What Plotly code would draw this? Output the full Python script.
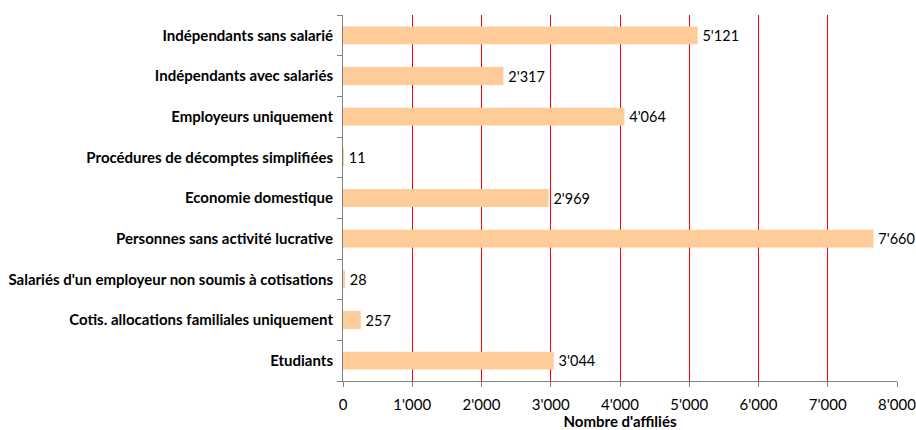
import plotly.graph_objects as go

categories = [
    "Indépendants sans salarié",
    "Indépendants avec salariés",
    "Employeurs uniquement",
    "Procédures de décomptes simplifiées",
    "Economie domestique",
    "Personnes sans activité lucrative",
    "Salariés d'un employeur non soumis à cotisations",
    "Cotis. allocations familiales uniquement",
    "Etudiants",
]
affilies = [5121, 2317, 4064, 11, 2969, 7660, 28, 257, 3044]
x_ticks = [0, 1000, 2000, 3000, 4000, 5000, 6000, 7000, 8000]

font_family = "Lato, 'Open Sans', sans-serif"

fig = go.Figure(
    go.Bar(
        y=categories,
        x=affilies,
        orientation="h",
        marker=dict(color="#FFCC99", line=dict(width=0)),
        texttemplate="\u2009%{x:,}",
        textposition="outside",
        textfont=dict(family=font_family, size=14.5, color="#000000"),
        cliponaxis=False,
        hoverinfo="skip",
    )
)

fig.update_layout(
    width=916,
    height=430,
    margin=dict(l=343, r=19, t=15, b=49),
    paper_bgcolor="white",
    plot_bgcolor="white",
    separators=".'",
    bargap=0.56,
    showlegend=False,
    font=dict(family=font_family, size=15, color="#000000"),
)

fig.update_xaxes(
    range=[0, 8000],
    tickvals=x_ticks,
    tickformat=",",
    showgrid=True,
    gridcolor="#FF0000",
    gridwidth=1,
    zeroline=False,
    showline=True,
    linecolor="#808080",
    linewidth=1,
    ticks="outside",
    ticklen=5,
    tickcolor="#808080",
    ticklabelstandoff=5,
    ticklabeloverflow="allow",
    layer="above traces",
    automargin=False,
    title=dict(text="<b>Nombre d'affiliés</b>", standoff=0, font=dict(size=15)),
    tickfont=dict(size=15),
)

fig.update_yaxes(
    categoryorder="array",
    categoryarray=categories[::-1],
    showgrid=False,
    showline=True,
    linecolor="#808080",
    linewidth=1,
    ticks="outside",
    ticklen=5,
    tickcolor="#808080",
    tickson="boundaries",
    ticklabelstandoff=6,
    automargin=False,
    tickfont=dict(size=15, weight="bold"),
)

# drop the default page margin so the figure sits at the window's top-left corner
fig.write_html(
    "out.html",
    config={"displayModeBar": False},
    post_script="document.body.style.margin='0';document.body.style.overflow='hidden';",
)
